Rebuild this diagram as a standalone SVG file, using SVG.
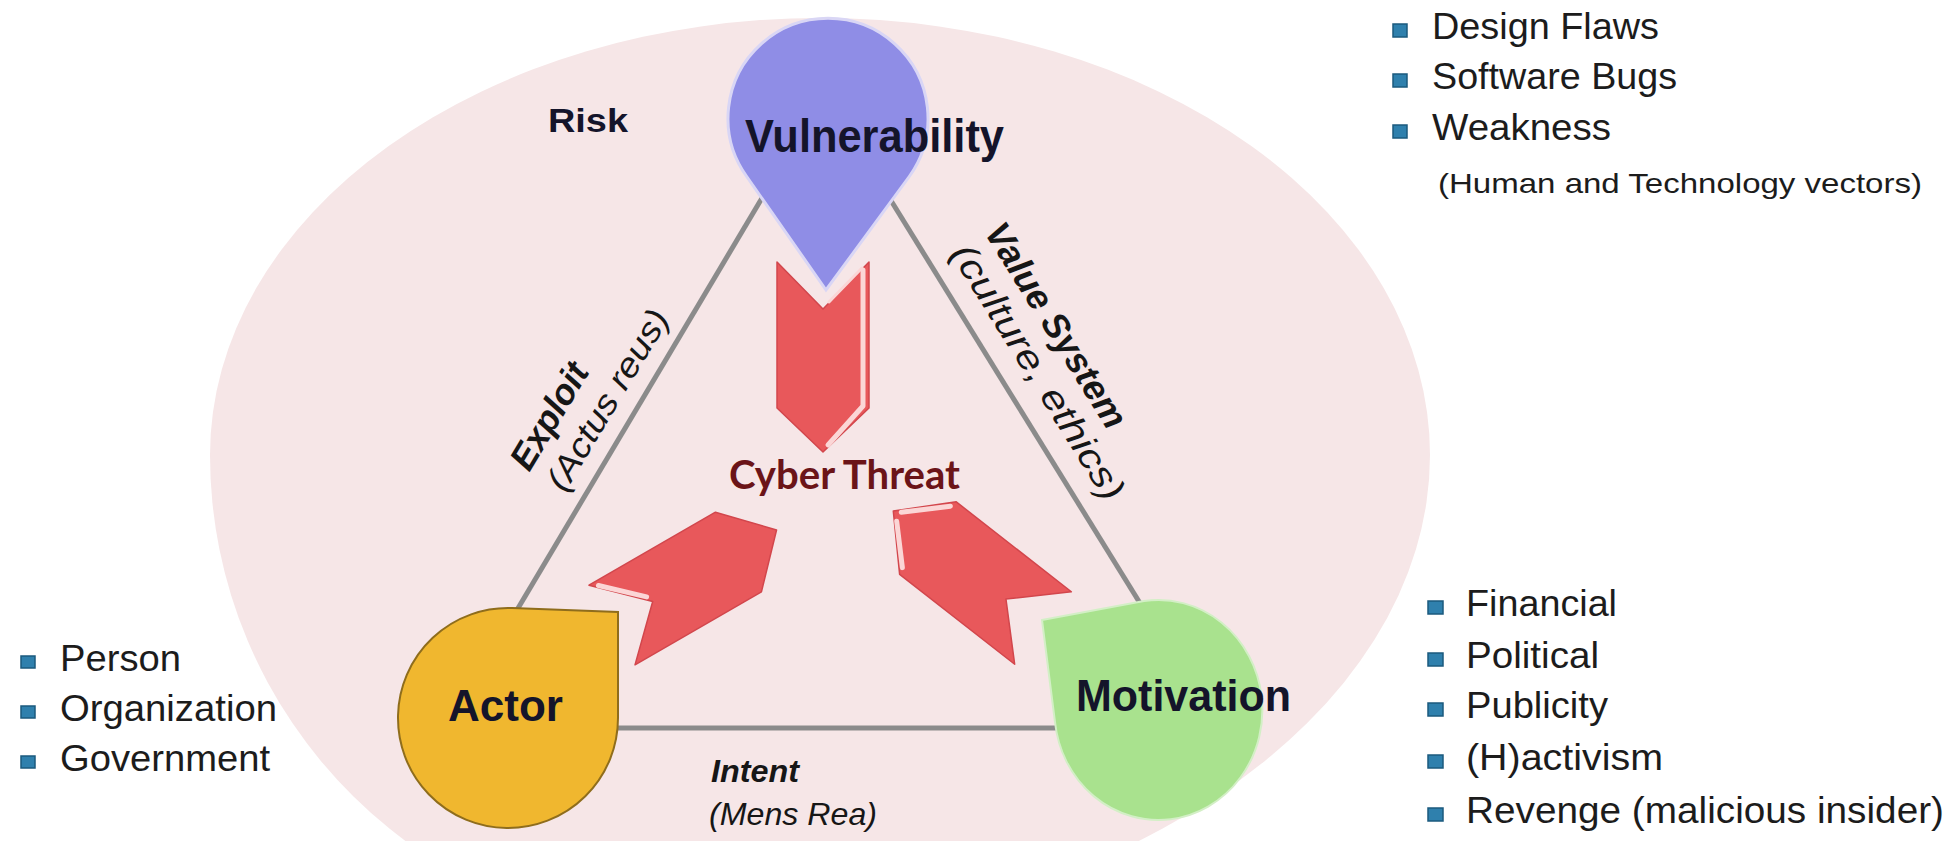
<svg xmlns="http://www.w3.org/2000/svg" width="1949" height="841" viewBox="0 0 1949 841">
<style>
.node{font-family:"Liberation Sans",Arial,sans-serif;font-weight:bold;font-size:46px;fill:#14142a;}
.edge{font-family:"Liberation Sans",Arial,sans-serif;font-size:34px;fill:#161616;}
.bi{font-weight:bold;font-style:italic;}
.it{font-style:italic;}
.list{font-family:"Liberation Sans",Arial,sans-serif;font-size:36px;fill:#1c1c1c;}
.bullet{fill:#2f80ad;stroke:#1b5a7e;stroke-width:1.5;}
.conn{stroke:#8b8b8b;stroke-width:5;fill:none;}
.arrow{fill:#e8585b;stroke:#d2464c;stroke-width:1.5;stroke-linejoin:round;}
.hl{stroke:#fbd6d6;stroke-width:5;fill:none;stroke-linecap:round;stroke-linejoin:round;}
</style>
<defs>
<path id="chev" d="M0,-46 L146,-46 L190,0 L146,46 L0,46 L47,0 Z"/>
</defs>
<rect width="1949" height="841" fill="#ffffff"/>
<g id="risk">
<path d="M820,18 A610,437 0 0 1 1430,455 A730,483 0 0 1 700,938 A490,483 0 0 1 210,455 A610,437 0 0 1 820,18 Z" fill="#f6e6e7"/>
<text class="node" x="548" y="132" textLength="80" lengthAdjust="spacingAndGlyphs" style="font-size:34px">Risk</text>
</g>
<g id="connectors">
<line class="conn" x1="765" y1="193" x2="514" y2="615"/>
<line class="conn" x1="890" y1="199" x2="1143" y2="608"/>
<line class="conn" x1="600" y1="728" x2="1070" y2="728"/>
<g id="label-exploit" transform="translate(608,400) rotate(-59)">
<text class="edge bi" x="-44" y="-30" text-anchor="middle" textLength="118" lengthAdjust="spacingAndGlyphs" style="font-size:36px">Exploit</text>
<text class="edge it" x="0" y="11" text-anchor="middle" textLength="205" lengthAdjust="spacingAndGlyphs">(Actus reus)</text>
</g>
<g id="label-value" transform="translate(1038,372) rotate(58)">
<text class="edge bi" x="-30" y="-28" text-anchor="middle" textLength="235" lengthAdjust="spacingAndGlyphs" style="font-size:36px">Value System</text>
<text class="edge it" x="0" y="12" text-anchor="middle" textLength="295" lengthAdjust="spacingAndGlyphs" style="font-size:36px">(culture, ethics)</text>
</g>
<g id="label-intent">
<text class="edge bi" x="711" y="782" textLength="88" lengthAdjust="spacingAndGlyphs" style="font-size:31px">Intent</text>
<text class="edge it" x="709" y="825" textLength="168" lengthAdjust="spacingAndGlyphs" style="font-size:32px">(Mens Rea)</text>
</g>
</g>
<g id="cyber-threat">
<g transform="translate(823,262) rotate(90)"><use href="#chev" class="arrow"/><polyline class="hl" points="8,-40 144,-40 183,-5"/><polyline class="hl" points="6,-39 40,-6" style="stroke-width:3"/></g>
<g transform="translate(612,625) rotate(-30)"><use href="#chev" class="arrow"/><polyline class="hl" points="8,-41 44,-7"/></g>
<g transform="translate(1043,628) rotate(218)"><use href="#chev" class="arrow"/><polyline class="hl" points="148,39 183,4"/><polyline class="hl" points="148,-39 181,-6"/></g>
<text x="729" y="489" font-family="Lato,'Open Sans','Liberation Sans',sans-serif" font-weight="bold" font-size="40" fill="#6b1418" textLength="231" lengthAdjust="spacingAndGlyphs">Cyber Threat</text>
</g>
<g id="vulnerability">
<path d="M826,290 L746.7,176.5 A100,100 0 1 1 909.3,176.5 Z" fill="#8f8de6" stroke="#d9d6f5" stroke-width="3"/>
<text class="node" x="745" y="152" textLength="259" lengthAdjust="spacingAndGlyphs">Vulnerability</text>
</g>
<g id="actor">
<path d="M618,612 L618,718 A110,110 0 1 1 512.2,608.1 Z" fill="#f0b72f" stroke="#8f6d1c" stroke-width="2"/>
<text class="node" x="448" y="721" textLength="115" lengthAdjust="spacingAndGlyphs" style="font-size:45px">Actor</text>
</g>
<g id="motivation">
<path d="M1042,620 L1144,601 A104,110 0 1 1 1055,722 Z" fill="#a9e28e" stroke="#d3efc6" stroke-width="2"/>
<text class="node" x="1076" y="711" textLength="215" lengthAdjust="spacingAndGlyphs" style="font-size:45px">Motivation</text>
</g>
<g id="vulnerability-list">
<rect class="bullet" x="1393" y="24" width="14" height="13"/>
<rect class="bullet" x="1393" y="74" width="14" height="13"/>
<rect class="bullet" x="1393" y="125" width="14" height="13"/>
<text class="list" x="1432" y="39" textLength="227" lengthAdjust="spacingAndGlyphs">Design Flaws</text>
<text class="list" x="1432" y="89" textLength="245" lengthAdjust="spacingAndGlyphs">Software Bugs</text>
<text class="list" x="1432" y="140" textLength="179" lengthAdjust="spacingAndGlyphs">Weakness</text>
<text class="list" x="1438" y="193" textLength="484" lengthAdjust="spacingAndGlyphs" style="font-size:28px">(Human and Technology vectors)</text>
</g>
<g id="actor-list">
<rect class="bullet" x="21" y="656" width="14" height="12"/>
<rect class="bullet" x="21" y="706" width="14" height="12"/>
<rect class="bullet" x="21" y="756" width="14" height="12"/>
<text class="list" x="60" y="671" textLength="121" lengthAdjust="spacingAndGlyphs">Person</text>
<text class="list" x="60" y="721" textLength="217" lengthAdjust="spacingAndGlyphs">Organization</text>
<text class="list" x="60" y="771" textLength="210" lengthAdjust="spacingAndGlyphs">Government</text>
</g>
<g id="motivation-list">
<rect class="bullet" x="1428" y="601" width="15" height="13"/>
<rect class="bullet" x="1428" y="653" width="15" height="13"/>
<rect class="bullet" x="1428" y="703" width="15" height="13"/>
<rect class="bullet" x="1428" y="755" width="15" height="13"/>
<rect class="bullet" x="1428" y="808" width="15" height="13"/>
<text class="list" x="1466" y="616" textLength="151" lengthAdjust="spacingAndGlyphs">Financial</text>
<text class="list" x="1466" y="668" textLength="133" lengthAdjust="spacingAndGlyphs">Political</text>
<text class="list" x="1466" y="718" textLength="142" lengthAdjust="spacingAndGlyphs">Publicity</text>
<text class="list" x="1466" y="770" textLength="197" lengthAdjust="spacingAndGlyphs">(H)activism</text>
<text class="list" x="1466" y="823" textLength="478" lengthAdjust="spacingAndGlyphs">Revenge (malicious insider)</text>
</g>
</svg>
